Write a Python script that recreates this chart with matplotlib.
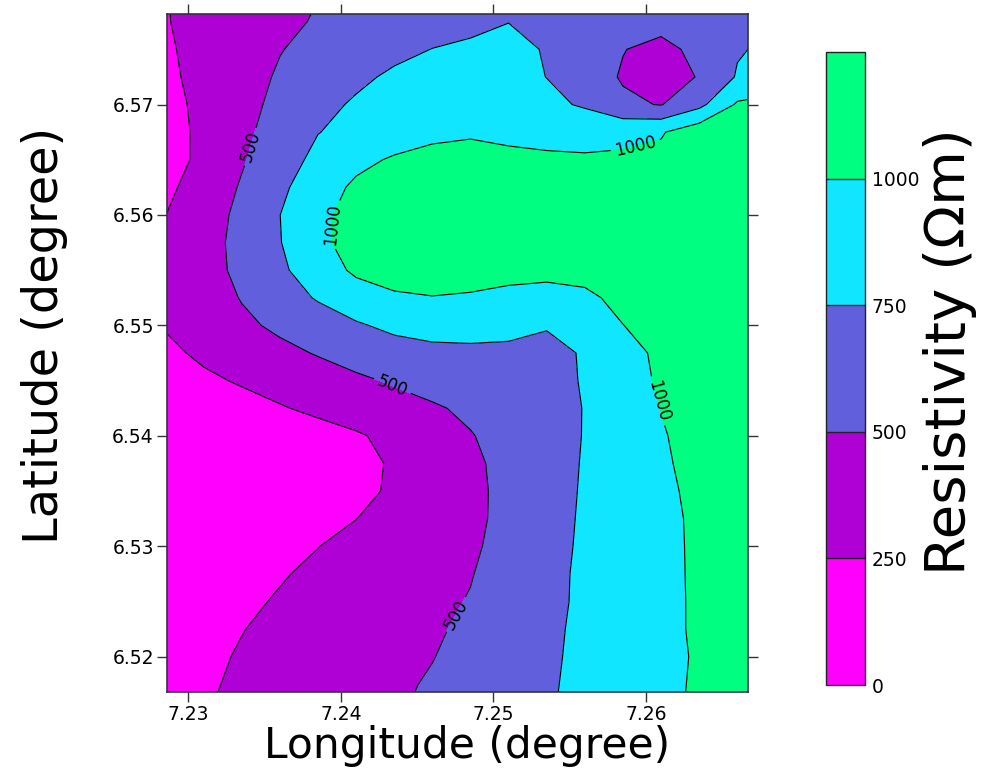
import numpy as np
import matplotlib
matplotlib.use("Agg")
import matplotlib.pyplot as plt

# grid nodes (degrees)
lon = [7.2285, 7.2310, 7.2335, 7.2360, 7.2385, 7.2410, 7.2435, 7.2460, 7.2485,
       7.2510, 7.2535, 7.2560, 7.2585, 7.2610, 7.2635, 7.2660, 7.2685]
lat = [6.5800, 6.5775, 6.5750, 6.5725, 6.5700, 6.5675, 6.5650, 6.5625, 6.5600,
       6.5575, 6.5550, 6.5525, 6.5500, 6.5475, 6.5450, 6.5425, 6.5400, 6.5375,
       6.5350, 6.5325, 6.5300, 6.5275, 6.5250, 6.5225, 6.5200, 6.5175, 6.5150]

# resistivity (ohm m), one row per latitude, north to south
resistivity = [
    [245, 300, 370, 440, 495, 545, 590, 630, 670, 710, 715, 690, 650, 610, 650, 735, 800],
    [240, 314, 385, 457, 517, 560, 605, 648, 692, 748, 735, 700, 640, 570, 640, 720, 800],
    [225, 312, 402, 492, 559, 624, 689, 754, 790, 790, 740, 619, 507, 440, 555, 731, 800],
    [210, 309, 418, 523, 612, 701, 790, 830, 850, 830, 747, 612, 480, 420, 510, 770, 830],
    [188, 297, 429, 557, 679, 780, 840, 880, 890, 870, 810, 720, 540, 490, 686, 1030, 1100],
    [178, 290, 448, 600, 745, 810, 880, 970, 985, 960, 940, 940, 950, 980, 1150, 1150, 1160],
    [176, 292, 478, 650, 806, 942, 1025, 1040, 1045, 1040, 1030, 1020, 1030, 1060, 1090, 1110, 1130],
    [206, 345, 522, 701, 892, 1040, 1080, 1100, 1110, 1110, 1110, 1100, 1100, 1110, 1120, 1130, 1140],
    [248, 393, 554, 748, 960, 1060, 1100, 1120, 1130, 1130, 1130, 1120, 1120, 1120, 1130, 1140, 1150],
    [270, 413, 566, 740, 965, 1060, 1100, 1110, 1110, 1100, 1090, 1090, 1100, 1110, 1130, 1140, 1150],
    [280, 410, 555, 708, 879, 1040, 1070, 1070, 1060, 1060, 1060, 1050, 1070, 1090, 1110, 1130, 1150],
    [290, 380, 512, 641, 770, 889, 977, 995, 985, 951, 921, 970, 1040, 1080, 1110, 1130, 1150],
    [265, 359, 454, 544, 634, 724, 803, 838, 831, 811, 762, 781, 998, 1060, 1100, 1120, 1140],
    [204, 289, 366, 443, 515, 593, 652, 692, 707, 705, 700, 765, 927, 1040, 1080, 1110, 1130],
    [154, 212, 271, 334, 398, 461, 525, 583, 628, 660, 660, 770, 901, 1030, 1070, 1100, 1120],
    [100, 120, 177, 234, 294, 354, 415, 475, 540, 610, 680, 756, 882, 1003, 1060, 1090, 1110],
    [100, 100, 100, 113, 170, 227, 305, 395, 489, 577, 668, 758, 864, 989, 1050, 1080, 1100],
    [100, 100, 100, 100, 146, 203, 268, 364, 460, 560, 662, 765, 871, 977, 1050, 1080, 1100],
    [100, 100, 100, 100, 150, 207, 274, 363, 453, 553, 664, 771, 868, 964, 1040, 1070, 1090],
    [100, 100, 100, 120, 191, 248, 320, 391, 455, 555, 670, 777, 867, 957, 1030, 1060, 1080],
    [100, 100, 133, 189, 247, 304, 361, 419, 470, 566, 679, 782, 867, 952, 1030, 1060, 1080],
    [100, 115, 178, 235, 287, 338, 389, 440, 491, 586, 692, 787, 868, 949, 1030, 1060, 1080],
    [100, 153, 214, 267, 315, 362, 410, 458, 510, 604, 699, 786, 866, 945, 1030, 1060, 1080],
    [130, 188, 245, 292, 339, 385, 432, 470, 544, 628, 711, 791, 868, 945, 1030, 1060, 1080],
    [155, 212, 265, 311, 357, 403, 448, 494, 566, 642, 718, 795, 871, 947, 1020, 1050, 1070],
    [170, 227, 278, 325, 372, 419, 466, 520, 588, 657, 726, 799, 875, 951, 1025, 1055, 1075],
    [185, 241, 292, 340, 387, 435, 482, 540, 604, 668, 733, 805, 880, 955, 1030, 1060, 1080],
]

levels = [0, 250, 500, 750, 1000, 1250]
plain_levels = [250, 750]
labelled_levels = [500, 1000]
band_colors = ["#ff00ff", "#af00d6", "#625fdc", "#10e6ff", "#00ff80"]

x_ticks = [7.23, 7.24, 7.25, 7.26]
y_ticks = [6.52, 6.53, 6.54, 6.55, 6.56, 6.57]

# where the contour labels sit (lon, lat)
label_spots = [(7.23418, 6.56613), (7.24343, 6.54468), (7.24750, 6.52387),
               (7.23917, 6.55916), (7.25932, 6.56622), (7.26063, 6.54310)]

Z = np.array(resistivity, dtype=float)

fig = plt.figure(figsize=(9.82, 7.69), dpi=100)
ax = fig.add_axes([0.1701, 0.1001, 0.5916, 0.8817])
cax = fig.add_axes([0.8411, 0.1092, 0.0397, 0.8232])

cf = ax.contourf(lon, lat, Z, levels=levels, colors=band_colors)
ax.contour(lon, lat, Z, levels=plain_levels, colors="black", linewidths=0.8)
cs = ax.contour(lon, lat, Z, levels=labelled_levels, colors="black", linewidths=0.8)
ax.clabel(cs, manual=label_spots, fmt="%d", fontsize=12,
          inline=True, inline_spacing=3)

ax.set_xlim(7.2286, 7.2667)
ax.set_ylim(6.5168, 6.5782)
ax.set_xticks(x_ticks)
ax.set_yticks(y_ticks)
ax.set_xticklabels(["%.2f" % v for v in x_ticks])
ax.set_yticklabels(["%.2f" % v for v in y_ticks])
ax.tick_params(direction="out", length=7, width=1, color="#333333",
               labelsize=13.5, top=True, right=True, pad=2.5)
for s in ax.spines.values():
    s.set_color("#333344")
    s.set_linewidth(1.2)

cbar = fig.colorbar(cf, cax=cax, drawedges=True)
cbar.set_ticks([0, 250, 500, 750, 1000])
cbar.ax.tick_params(length=0, labelsize=13.5, pad=5)
cbar.outline.set_edgecolor("#222222")
cbar.outline.set_linewidth(1)
cbar.dividers.set_color("#222222")
cbar.dividers.set_linewidth(1)

fig.text(467 / 982, 1 - 758 / 769, "Longitude (degree)", fontsize=30.5,
         ha="center", va="baseline")
fig.text(45 / 982, 1 - 335 / 769, "Latitude (degree)", fontsize=34.5,
         rotation=90, ha="center", va="center")
fig.text(950 / 982, 1 - 352 / 769, "Resistivity (\u03a9m)", fontsize=40.5,
         rotation=90, ha="center", va="center")

fig.savefig("out.png", dpi=100)
